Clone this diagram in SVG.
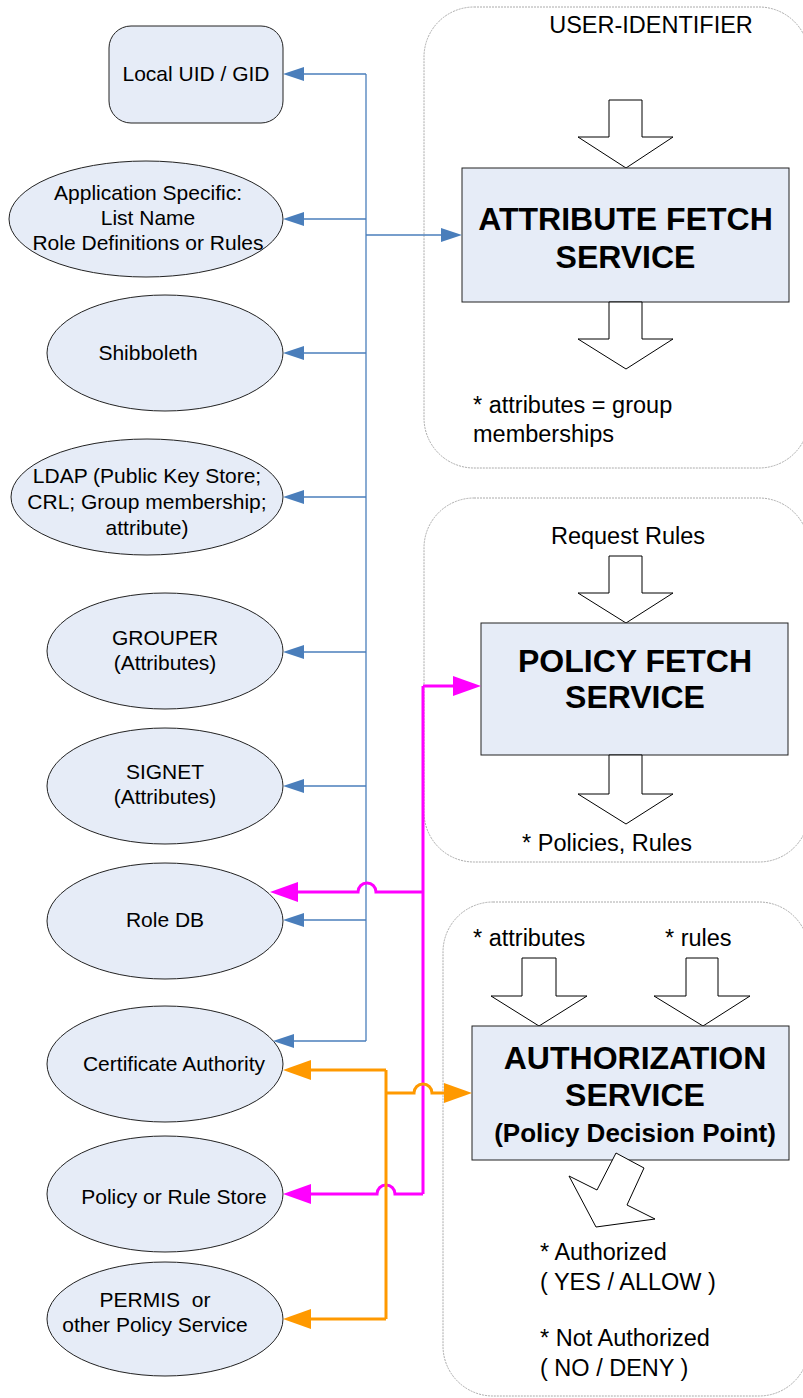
<svg xmlns="http://www.w3.org/2000/svg" width="803" height="1398" viewBox="0 0 803 1398">
<style>
.t{font-family:"Liberation Sans",Arial,sans-serif;fill:#000}
.l{font-size:21px}
.r{font-size:23.5px}
.b{font-size:32px;font-weight:bold}
.node{fill:#E6ECF7;stroke:#222;stroke-width:1}
.cont{fill:none;stroke:#aaa;stroke-width:1;stroke-dasharray:2 1}
.barrow{fill:#fff;stroke:#000;stroke-width:1}
.blue{fill:none;stroke:#4A7EBB;stroke-width:1.3}
.mag{fill:none;stroke:#FF00FF;stroke-width:3}
.org{fill:none;stroke:#FF9900;stroke-width:3}
</style>
<defs>
<marker id="mb" markerUnits="userSpaceOnUse" markerWidth="21" markerHeight="14" refX="0" refY="7" orient="auto" viewBox="0 0 21 14"><path d="M0,0 L21,7 L0,14 z" fill="#4A7EBB"/></marker>
<marker id="mm" markerUnits="userSpaceOnUse" markerWidth="28" markerHeight="20" refX="0" refY="10" orient="auto" viewBox="0 0 28 20"><path d="M0,0 L28,10 L0,20 z" fill="#FF00FF"/></marker>
<marker id="mo" markerUnits="userSpaceOnUse" markerWidth="28" markerHeight="20" refX="0" refY="10" orient="auto" viewBox="0 0 28 20"><path d="M0,0 L28,10 L0,20 z" fill="#FF9900"/></marker>
</defs>

<g id="containers">
<rect id="c1" class="cont" x="424" y="7" width="385" height="461" rx="50"/>
<rect id="c2" class="cont" x="424" y="498" width="385" height="364" rx="50"/>
<rect id="c3" class="cont" x="443" y="902" width="366" height="494" rx="50"/>
</g>

<g id="attr-fetch">
<text class="t r" x="651" y="33" text-anchor="middle">USER-IDENTIFIER</text>
<polygon class="barrow" points="609,100 642,100 642,137 673,137 626,168 578,137 609,137"/>
<rect class="node" x="462" y="168" width="327" height="134"/>
<text class="t b" x="625.5" y="230" text-anchor="middle">ATTRIBUTE FETCH</text>
<text class="t b" x="625.5" y="268" text-anchor="middle">SERVICE</text>
<polygon class="barrow" points="609,302 642,302 642,339 673,339 626,369 578,339 609,339"/>
<text class="t r" x="473" y="413">* attributes = group</text>
<text class="t r" x="473" y="442">memberships</text>
</g>

<g id="policy-fetch">
<text class="t r" x="628" y="544" text-anchor="middle">Request Rules</text>
<polygon class="barrow" points="609,556 642,556 642,593 673,593 626,623 578,593 609,593"/>
<rect class="node" x="481" y="623" width="307" height="132"/>
<text class="t b" x="635" y="672" text-anchor="middle">POLICY FETCH</text>
<text class="t b" x="635" y="708" text-anchor="middle">SERVICE</text>
<polygon class="barrow" points="609,755 642,755 642,794 673,794 626,824 578,794 609,794"/>
<text class="t r" x="607" y="851" text-anchor="middle">* Policies, Rules</text>
</g>

<g id="authz">
<text class="t r" x="473" y="946">* attributes</text>
<text class="t r" x="665" y="946">* rules</text>
<polygon class="barrow" points="522,958 556,958 556,996 587,996 539,1026 491,996 522,996"/>
<polygon class="barrow" points="686,958 718,958 718,996 750,996 703,1026 654,996 686,996"/>
<rect class="node" x="472" y="1026" width="317" height="134"/>
<text class="t b" x="635" y="1069" text-anchor="middle">AUTHORIZATION</text>
<text class="t b" x="635" y="1106" text-anchor="middle">SERVICE</text>
<text class="t" x="635" y="1142" text-anchor="middle" style="font-size:26px;font-weight:bold">(Policy Decision Point)</text>
<polygon class="barrow" points="616,1153 644,1168 627,1205 655,1219 596,1227 569,1176 597,1190"/>
<text class="t r" x="540" y="1260">* Authorized</text>
<text class="t r" x="540" y="1290">( YES / ALLOW )</text>
<text class="t r" x="540" y="1346">* Not Authorized</text>
<text class="t r" x="540" y="1376">( NO / DENY )</text>
</g>

<g id="local-uid">
<rect class="node" x="109" y="26" width="174" height="97" rx="22"/>
<text class="t l" x="196" y="81" text-anchor="middle">Local UID / GID</text>
</g>
<g id="app-specific">
<ellipse class="node" cx="146" cy="219" rx="137" ry="58"/>
<text class="t l" x="148" y="200" text-anchor="middle">Application Specific:</text>
<text class="t l" x="148" y="225" text-anchor="middle">List Name</text>
<text class="t l" x="148" y="250" text-anchor="middle">Role Definitions or Rules</text>
</g>
<g id="shibboleth">
<ellipse class="node" cx="165" cy="353" rx="118" ry="58"/>
<text class="t l" x="148" y="360" text-anchor="middle">Shibboleth</text>
</g>
<g id="ldap">
<ellipse class="node" cx="147" cy="497" rx="136" ry="58"/>
<text class="t l" x="147" y="483" text-anchor="middle">LDAP (Public Key Store;</text>
<text class="t l" x="147" y="509" text-anchor="middle">CRL; Group membership;</text>
<text class="t l" x="147" y="535" text-anchor="middle">attribute)</text>
</g>
<g id="grouper">
<ellipse class="node" cx="165" cy="651" rx="118" ry="58"/>
<text class="t l" x="165" y="645" text-anchor="middle">GROUPER</text>
<text class="t l" x="165" y="670" text-anchor="middle">(Attributes)</text>
</g>
<g id="signet">
<ellipse class="node" cx="165" cy="786" rx="118" ry="58"/>
<text class="t l" x="165" y="779" text-anchor="middle">SIGNET</text>
<text class="t l" x="165" y="804" text-anchor="middle">(Attributes)</text>
</g>
<g id="role-db">
<ellipse class="node" cx="165" cy="921" rx="118" ry="58"/>
<text class="t l" x="165" y="927" text-anchor="middle">Role DB</text>
</g>
<g id="cert-authority">
<ellipse class="node" cx="165" cy="1064" rx="118" ry="58"/>
<text class="t l" x="174" y="1071" text-anchor="middle">Certificate Authority</text>
</g>
<g id="policy-store">
<ellipse class="node" cx="165" cy="1194" rx="118" ry="58"/>
<text class="t l" x="174" y="1204" text-anchor="middle">Policy or Rule Store</text>
</g>
<g id="permis">
<ellipse class="node" cx="165" cy="1319" rx="118" ry="57"/>
<text class="t l" x="155" y="1307" text-anchor="middle">PERMIS&#160; or</text>
<text class="t l" x="155" y="1332" text-anchor="middle">other Policy Service</text>
</g>

<g id="connectors">
<path class="blue" d="M366,74 V1041"/>
<path class="blue" d="M366,74 H304" marker-end="url(#mb)"/>
<path class="blue" d="M366,219 H304" marker-end="url(#mb)"/>
<path class="blue" d="M366,235 H441" marker-end="url(#mb)"/>
<path class="blue" d="M366,353 H304" marker-end="url(#mb)"/>
<path class="blue" d="M366,497 H304" marker-end="url(#mb)"/>
<path class="blue" d="M366,652 H304" marker-end="url(#mb)"/>
<path class="blue" d="M366,786 H304" marker-end="url(#mb)"/>
<path class="blue" d="M366,920 H304" marker-end="url(#mb)"/>
<path class="blue" d="M366,1041 H294" marker-end="url(#mb)"/>

<path class="mag" d="M423,686 V1194"/>
<path class="mag" d="M423,686 H453" marker-end="url(#mm)"/>
<path class="mag" d="M423,892 H376 A9,9 0 0 0 358,892 H298" marker-end="url(#mm)"/>
<path class="mag" d="M423,1194 H395 A9,9 0 0 0 377,1194 H311" marker-end="url(#mm)"/>

<path class="org" d="M386,1070 V1319"/>
<path class="org" d="M386,1070 H311" marker-end="url(#mo)"/>
<path class="org" d="M386,1319 H311" marker-end="url(#mo)"/>
<path class="org" d="M386,1093 H414 A9,9 0 0 1 432,1093 H444" marker-end="url(#mo)"/>
</g>
</svg>
